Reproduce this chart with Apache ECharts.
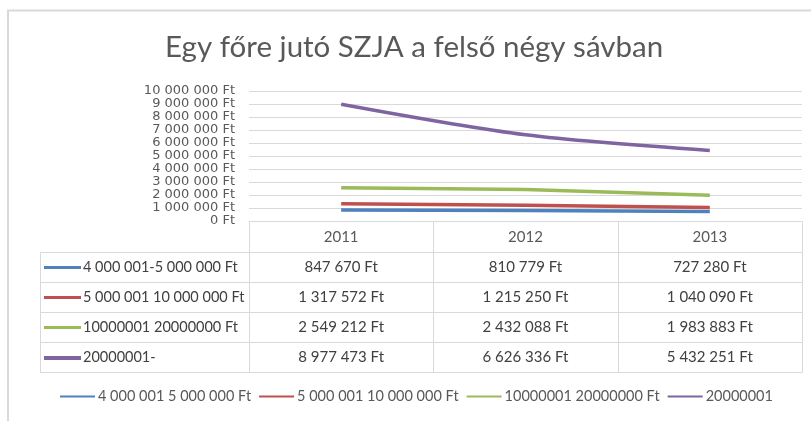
<!DOCTYPE html>
<html>
<head>
<meta charset="utf-8">
<script src="https://cdn.jsdelivr.net/npm/echarts@6/dist/echarts.min.js"></script>
<style>
  html, body { margin: 0; padding: 0; background: #fff; }
  #main { width: 811px; height: 421px; }
</style>
</head>
<body>
<div id="main"></div>
<script>
  // adatok
  var years = ['2011', '2012', '2013'];
  var bandNames = ['4 000 001-5 000 000 Ft', '5 000 001 10 000 000 Ft', '10000001 20000000 Ft', '20000001-'];
  var band1 = [847670, 810779, 727280];
  var band2 = [1317572, 1215250, 1040090];
  var band3 = [2549212, 2432088, 1983883];
  var band4 = [8977473, 6626336, 5432251];
  var yTicks = [0, 10000000, 1000000]; // min, max, lépés

  var colors = ['#4f81bd', '#c0504d', '#9bbb59', '#8064a2'];
  var allBands = [band1, band2, band3, band4];
  var font = 'Lato';

  function ft(v) {
    return String(v).replace(/\B(?=(\d{3})+(?!\d))/g, ' ') + ' Ft';
  }

  var myChart = echarts.init(document.getElementById('main'));

  var series = allBands.map(function(d, i) {
    return {
      name: bandNames[i],
      type: 'line',
      data: d,
      smooth: i == 3 ? 0.3 : false,
      symbol: 'none',
      lineStyle: { width: 3.5, color: colors[i] },
      itemStyle: { color: colors[i] }
    };
  });

  var option = {
    animation: false,
    title: {
      text: 'Egy főre jutó SZJA a felső négy sávban',
      left: 160,
      top: 27,
      textStyle: { fontFamily: font, fontSize: 29.5, fontWeight: 'normal', color: '#595959' }
    },
    legend: {
      bottom: 12,
      left: 55,
      icon: 'rect',
      itemWidth: 35,
      itemHeight: 2,
      itemGap: 8,
      formatter: function(name) { return name.replace('-', ' ').trim(); },
      textStyle: { fontFamily: font, fontSize: 14.5, color: '#595959', padding: [0, 0, 0, -2] }
    },
    grid: { left: 249, right: 9, top: 91, bottom: 200 },
    xAxis: {
      type: 'category',
      data: years,
      boundaryGap: true,
      axisLine: { lineStyle: { color: '#d9d9d9' } },
      axisTick: { show: false },
      axisLabel: { margin: 9, fontFamily: font, fontSize: 15, color: '#595959' }
    },
    yAxis: {
      type: 'value',
      min: yTicks[0],
      max: yTicks[1],
      interval: yTicks[2],
      axisLine: { show: false },
      axisTick: { show: false },
      splitLine: { lineStyle: { color: '#d9d9d9' } },
      axisLabel: {
        margin: 14,
        fontFamily: 'DejaVu Sans',
        fontSize: 13,
        color: '#595959',
        formatter: function(v) { return ft(v); }
      }
    },
    series: series
  };
  myChart.setOption(option);

  // adattábla a diagram alatt
  var x0 = myChart.convertToPixel({ xAxisIndex: 0 }, 0);
  var x1 = myChart.convertToPixel({ xAxisIndex: 0 }, 1);
  var colW = x1 - x0;
  var tableTop = Math.round(myChart.convertToPixel({ yAxisIndex: 0 }, 0)) + 0.5;
  var headH = 31, rowH = 30, tableLeft = 40;
  var gridLeft = x0 - colW / 2;
  var gridRight = x0 + colW * (years.length - 0.5);
  var tableBottom = tableTop + headH + rowH * bandNames.length;
  var lineCol = '#d9d9d9';
  var g = [];

  // keret
  g.push({ type: 'polyline', shape: { points: [[8, 421], [8, 10.5], [811, 10.5]] },
    style: { stroke: lineCol, lineWidth: 2, fill: null } });

  // függőleges vonalak
  for (var c = 0; c <= years.length; c++) {
    var xx = Math.round(gridLeft + c * colW) + 0.5;
    g.push({ type: 'line', shape: { x1: xx, y1: tableTop, x2: xx, y2: tableBottom },
      style: { stroke: lineCol, lineWidth: 1 } });
  }
  g.push({ type: 'line', shape: { x1: tableLeft + 0.5, y1: tableTop + headH, x2: tableLeft + 0.5, y2: tableBottom },
    style: { stroke: lineCol, lineWidth: 1 } });

  // vízszintes vonalak
  for (var r = 0; r <= bandNames.length; r++) {
    var yy = tableTop + headH + r * rowH;
    g.push({ type: 'line', shape: { x1: tableLeft, y1: yy, x2: gridRight, y2: yy },
      style: { stroke: lineCol, lineWidth: 1 } });
  }

  // sorok
  bandNames.forEach(function(name, i) {
    var cy = tableTop + headH + i * rowH + rowH / 2;
    g.push({ type: 'rect', shape: { x: 44, y: cy - 1.5, width: 37, height: i == 3 ? 4 : 3 },
      style: { fill: colors[i] } });
    g.push({ type: 'text', x: 83, y: cy,
      style: { text: name, fontFamily: font, fontSize: 14.5, fill: '#404040', verticalAlign: 'middle', align: 'left' } });
    allBands[i].forEach(function(v, j) {
      g.push({ type: 'text', x: myChart.convertToPixel({ xAxisIndex: 0 }, j), y: cy,
        style: { text: ft(v), fontFamily: font, fontSize: 15, fill: '#404040', verticalAlign: 'middle', align: 'center' } });
    });
  });

  myChart.setOption({ graphic: g });
</script>
</body>
</html>
